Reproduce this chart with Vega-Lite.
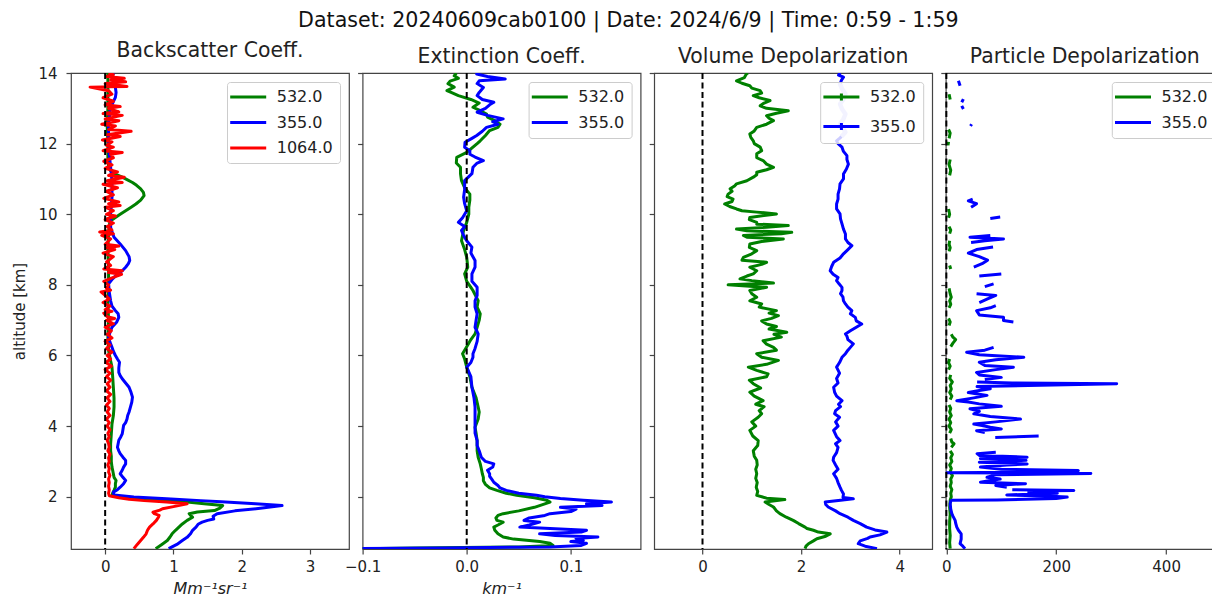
{
  "$schema": "https://vega.github.io/schema/vega-lite/v6.json",
  "background": "white",
  "padding": {"left": 12, "top": 11, "right": 0, "bottom": 0},
  "title": {
    "text": "Dataset: 20240609cab0100 | Date: 2024/6/9 | Time: 0:59 - 1:59",
    "fontSize": 20.6,
    "anchor": "middle",
    "offset": 8,
    "dx": 10,
    "color": "#111"
  },
  "spacing": 13.6,
  "bounds": "flush",
  "resolve": {"scale": {"color": "independent"}, "legend": {"color": "independent"}},
  "datasets": {
    "bsc": [
      {"alt":0.53,"v":0.74,"wl":"532.0"},{"alt":0.65,"v":0.83,"wl":"532.0"},{"alt":0.76,"v":0.91,"wl":"532.0"},{"alt":0.86,"v":0.95,"wl":"532.0"},{"alt":0.95,"v":0.98,"wl":"532.0"},{"alt":1.05,"v":1.03,"wl":"532.0"},{"alt":1.14,"v":1.08,"wl":"532.0"},{"alt":1.23,"v":1.13,"wl":"532.0"},{"alt":1.33,"v":1.2,"wl":"532.0"},{"alt":1.42,"v":1.28,"wl":"532.0"},{"alt":1.47,"v":1.25,"wl":"532.0"},{"alt":1.52,"v":1.23,"wl":"532.0"},{"alt":1.57,"v":1.35,"wl":"532.0"},{"alt":1.61,"v":1.6,"wl":"532.0"},{"alt":1.68,"v":1.68,"wl":"532.0"},{"alt":1.75,"v":1.72,"wl":"532.0"},{"alt":1.8,"v":1.45,"wl":"532.0"},{"alt":1.85,"v":1.2,"wl":"532.0"},{"alt":1.9,"v":0.8,"wl":"532.0"},{"alt":1.94,"v":0.52,"wl":"532.0"},{"alt":1.98,"v":0.25,"wl":"532.0"},{"alt":2.03,"v":0.1,"wl":"532.0"},{"alt":2.1,"v":0.11,"wl":"532.0"},{"alt":2.18,"v":0.13,"wl":"532.0"},{"alt":2.27,"v":0.15,"wl":"532.0"},{"alt":2.37,"v":0.15,"wl":"532.0"},{"alt":2.46,"v":0.16,"wl":"532.0"},{"alt":2.55,"v":0.13,"wl":"532.0"},{"alt":2.65,"v":0.12,"wl":"532.0"},{"alt":2.75,"v":0.11,"wl":"532.0"},{"alt":2.84,"v":0.1,"wl":"532.0"},{"alt":3.0,"v":0.09,"wl":"532.0"},{"alt":3.15,"v":0.09,"wl":"532.0"},{"alt":3.3,"v":0.08,"wl":"532.0"},{"alt":3.5,"v":0.08,"wl":"532.0"},{"alt":3.78,"v":0.09,"wl":"532.0"},{"alt":4.06,"v":0.1,"wl":"532.0"},{"alt":4.3,"v":0.12,"wl":"532.0"},{"alt":4.54,"v":0.13,"wl":"532.0"},{"alt":4.8,"v":0.13,"wl":"532.0"},{"alt":5.1,"v":0.12,"wl":"532.0"},{"alt":5.4,"v":0.11,"wl":"532.0"},{"alt":5.67,"v":0.1,"wl":"532.0"},{"alt":5.85,"v":0.08,"wl":"532.0"},{"alt":6.14,"v":0.05,"wl":"532.0"},{"alt":6.5,"v":0.04,"wl":"532.0"},{"alt":7.0,"v":0.05,"wl":"532.0"},{"alt":7.5,"v":0.04,"wl":"532.0"},{"alt":8.0,"v":0.05,"wl":"532.0"},{"alt":8.5,"v":0.05,"wl":"532.0"},{"alt":9.0,"v":0.04,"wl":"532.0"},{"alt":9.5,"v":0.05,"wl":"532.0"},{"alt":9.8,"v":0.07,"wl":"532.0"},{"alt":9.91,"v":0.15,"wl":"532.0"},{"alt":10.0,"v":0.22,"wl":"532.0"},{"alt":10.1,"v":0.3,"wl":"532.0"},{"alt":10.2,"v":0.38,"wl":"532.0"},{"alt":10.29,"v":0.45,"wl":"532.0"},{"alt":10.4,"v":0.52,"wl":"532.0"},{"alt":10.53,"v":0.57,"wl":"532.0"},{"alt":10.62,"v":0.56,"wl":"532.0"},{"alt":10.72,"v":0.52,"wl":"532.0"},{"alt":10.82,"v":0.46,"wl":"532.0"},{"alt":10.9,"v":0.4,"wl":"532.0"},{"alt":10.98,"v":0.32,"wl":"532.0"},{"alt":11.05,"v":0.25,"wl":"532.0"},{"alt":11.14,"v":0.15,"wl":"532.0"},{"alt":11.23,"v":0.08,"wl":"532.0"},{"alt":11.35,"v":0.05,"wl":"532.0"},{"alt":11.6,"v":0.04,"wl":"532.0"},{"alt":12.0,"v":0.04,"wl":"532.0"},{"alt":12.5,"v":0.03,"wl":"532.0"},{"alt":13.0,"v":0.04,"wl":"532.0"},{"alt":13.5,"v":0.04,"wl":"532.0"},{"alt":14.0,"v":0.04,"wl":"532.0"},

      {"alt":0.53,"v":0.93,"wl":"355.0"},{"alt":0.65,"v":1.05,"wl":"355.0"},{"alt":0.76,"v":1.13,"wl":"355.0"},{"alt":0.85,"v":1.2,"wl":"355.0"},{"alt":0.95,"v":1.25,"wl":"355.0"},{"alt":1.05,"v":1.28,"wl":"355.0"},{"alt":1.14,"v":1.33,"wl":"355.0"},{"alt":1.22,"v":1.36,"wl":"355.0"},{"alt":1.28,"v":1.42,"wl":"355.0"},{"alt":1.33,"v":1.5,"wl":"355.0"},{"alt":1.37,"v":1.59,"wl":"355.0"},{"alt":1.45,"v":1.58,"wl":"355.0"},{"alt":1.52,"v":1.64,"wl":"355.0"},{"alt":1.6,"v":1.9,"wl":"355.0"},{"alt":1.68,"v":2.3,"wl":"355.0"},{"alt":1.75,"v":2.59,"wl":"355.0"},{"alt":1.8,"v":2.2,"wl":"355.0"},{"alt":1.86,"v":1.7,"wl":"355.0"},{"alt":1.89,"v":1.4,"wl":"355.0"},{"alt":1.94,"v":0.9,"wl":"355.0"},{"alt":1.99,"v":0.42,"wl":"355.0"},{"alt":2.05,"v":0.13,"wl":"355.0"},{"alt":2.13,"v":0.12,"wl":"355.0"},{"alt":2.2,"v":0.18,"wl":"355.0"},{"alt":2.27,"v":0.22,"wl":"355.0"},{"alt":2.37,"v":0.27,"wl":"355.0"},{"alt":2.46,"v":0.3,"wl":"355.0"},{"alt":2.55,"v":0.26,"wl":"355.0"},{"alt":2.65,"v":0.22,"wl":"355.0"},{"alt":2.75,"v":0.25,"wl":"355.0"},{"alt":2.84,"v":0.27,"wl":"355.0"},{"alt":2.93,"v":0.3,"wl":"355.0"},{"alt":3.03,"v":0.3,"wl":"355.0"},{"alt":3.12,"v":0.26,"wl":"355.0"},{"alt":3.22,"v":0.22,"wl":"355.0"},{"alt":3.3,"v":0.2,"wl":"355.0"},{"alt":3.4,"v":0.18,"wl":"355.0"},{"alt":3.5,"v":0.19,"wl":"355.0"},{"alt":3.6,"v":0.2,"wl":"355.0"},{"alt":3.7,"v":0.23,"wl":"355.0"},{"alt":3.78,"v":0.25,"wl":"355.0"},{"alt":3.9,"v":0.26,"wl":"355.0"},{"alt":4.02,"v":0.27,"wl":"355.0"},{"alt":4.1,"v":0.3,"wl":"355.0"},{"alt":4.2,"v":0.32,"wl":"355.0"},{"alt":4.3,"v":0.33,"wl":"355.0"},{"alt":4.4,"v":0.35,"wl":"355.0"},{"alt":4.54,"v":0.37,"wl":"355.0"},{"alt":4.68,"v":0.39,"wl":"355.0"},{"alt":4.82,"v":0.4,"wl":"355.0"},{"alt":4.95,"v":0.38,"wl":"355.0"},{"alt":5.1,"v":0.35,"wl":"355.0"},{"alt":5.22,"v":0.3,"wl":"355.0"},{"alt":5.34,"v":0.25,"wl":"355.0"},{"alt":5.43,"v":0.22,"wl":"355.0"},{"alt":5.52,"v":0.2,"wl":"355.0"},{"alt":5.65,"v":0.2,"wl":"355.0"},{"alt":5.81,"v":0.21,"wl":"355.0"},{"alt":5.9,"v":0.18,"wl":"355.0"},{"alt":6.0,"v":0.15,"wl":"355.0"},{"alt":6.12,"v":0.12,"wl":"355.0"},{"alt":6.23,"v":0.1,"wl":"355.0"},{"alt":6.38,"v":0.07,"wl":"355.0"},{"alt":6.52,"v":0.05,"wl":"355.0"},{"alt":6.65,"v":0.07,"wl":"355.0"},{"alt":6.8,"v":0.1,"wl":"355.0"},{"alt":6.95,"v":0.17,"wl":"355.0"},{"alt":7.08,"v":0.2,"wl":"355.0"},{"alt":7.18,"v":0.19,"wl":"355.0"},{"alt":7.27,"v":0.15,"wl":"355.0"},{"alt":7.4,"v":0.1,"wl":"355.0"},{"alt":7.55,"v":0.08,"wl":"355.0"},{"alt":7.8,"v":0.06,"wl":"355.0"},{"alt":8.03,"v":0.05,"wl":"355.0"},{"alt":8.15,"v":0.1,"wl":"355.0"},{"alt":8.31,"v":0.18,"wl":"355.0"},{"alt":8.4,"v":0.25,"wl":"355.0"},{"alt":8.5,"v":0.3,"wl":"355.0"},{"alt":8.6,"v":0.34,"wl":"355.0"},{"alt":8.69,"v":0.36,"wl":"355.0"},{"alt":8.8,"v":0.35,"wl":"355.0"},{"alt":8.97,"v":0.3,"wl":"355.0"},{"alt":9.16,"v":0.22,"wl":"355.0"},{"alt":9.35,"v":0.13,"wl":"355.0"},{"alt":9.5,"v":0.1,"wl":"355.0"},{"alt":9.63,"v":0.08,"wl":"355.0"},{"alt":10.01,"v":0.08,"wl":"355.0"},{"alt":10.48,"v":0.1,"wl":"355.0"},{"alt":10.95,"v":0.1,"wl":"355.0"},{"alt":11.33,"v":0.08,"wl":"355.0"},{"alt":11.7,"v":0.06,"wl":"355.0"},{"alt":12.08,"v":0.05,"wl":"355.0"},{"alt":12.55,"v":0.05,"wl":"355.0"},{"alt":13.03,"v":0.08,"wl":"355.0"},{"alt":13.15,"v":0.11,"wl":"355.0"},{"alt":13.31,"v":0.15,"wl":"355.0"},{"alt":13.45,"v":0.16,"wl":"355.0"},{"alt":13.59,"v":0.15,"wl":"355.0"},{"alt":13.75,"v":0.12,"wl":"355.0"},{"alt":13.88,"v":0.1,"wl":"355.0"},{"alt":14.0,"v":0.12,"wl":"355.0"},

      {"alt":0.53,"v":0.42,"wl":"1064.0"},{"alt":0.65,"v":0.47,"wl":"1064.0"},{"alt":0.76,"v":0.52,"wl":"1064.0"},{"alt":0.85,"v":0.56,"wl":"1064.0"},{"alt":0.95,"v":0.6,"wl":"1064.0"},{"alt":1.05,"v":0.62,"wl":"1064.0"},{"alt":1.14,"v":0.65,"wl":"1064.0"},{"alt":1.23,"v":0.7,"wl":"1064.0"},{"alt":1.33,"v":0.75,"wl":"1064.0"},{"alt":1.42,"v":0.78,"wl":"1064.0"},{"alt":1.47,"v":0.79,"wl":"1064.0"},{"alt":1.52,"v":0.72,"wl":"1064.0"},{"alt":1.56,"v":0.7,"wl":"1064.0"},{"alt":1.62,"v":0.8,"wl":"1064.0"},{"alt":1.66,"v":0.84,"wl":"1064.0"},{"alt":1.72,"v":1.0,"wl":"1064.0"},{"alt":1.8,"v":1.2,"wl":"1064.0"},{"alt":1.85,"v":0.9,"wl":"1064.0"},{"alt":1.89,"v":0.57,"wl":"1064.0"},{"alt":1.93,"v":0.35,"wl":"1064.0"},{"alt":1.97,"v":0.2,"wl":"1064.0"},{"alt":2.03,"v":0.06,"wl":"1064.0"},
      {"alt":2.1,"v":0.05,"wl":"1064.0"},{"alt":2.2,"v":0.06,"wl":"1064.0"},{"alt":2.3,"v":0.05,"wl":"1064.0"},{"alt":2.4,"v":0.06,"wl":"1064.0"},{"alt":2.5,"v":0.05,"wl":"1064.0"},{"alt":2.6,"v":0.07,"wl":"1064.0"},{"alt":2.7,"v":0.05,"wl":"1064.0"},{"alt":2.8,"v":0.06,"wl":"1064.0"},{"alt":2.9,"v":0.04,"wl":"1064.0"},{"alt":3.0,"v":0.06,"wl":"1064.0"},{"alt":3.1,"v":0.05,"wl":"1064.0"},{"alt":3.2,"v":0.07,"wl":"1064.0"},{"alt":3.3,"v":0.04,"wl":"1064.0"},{"alt":3.4,"v":0.06,"wl":"1064.0"},{"alt":3.5,"v":0.05,"wl":"1064.0"},{"alt":3.6,"v":0.03,"wl":"1064.0"},{"alt":3.7,"v":0.06,"wl":"1064.0"},{"alt":3.8,"v":0.04,"wl":"1064.0"},{"alt":3.9,"v":0.07,"wl":"1064.0"},{"alt":4.0,"v":0.03,"wl":"1064.0"},{"alt":4.1,"v":0.06,"wl":"1064.0"},{"alt":4.2,"v":0.02,"wl":"1064.0"},{"alt":4.3,"v":0.07,"wl":"1064.0"},{"alt":4.4,"v":0.03,"wl":"1064.0"},{"alt":4.5,"v":0.06,"wl":"1064.0"},{"alt":4.6,"v":0.02,"wl":"1064.0"},{"alt":4.7,"v":0.07,"wl":"1064.0"},{"alt":4.8,"v":0.03,"wl":"1064.0"},{"alt":4.9,"v":0.08,"wl":"1064.0"},{"alt":5.0,"v":0.02,"wl":"1064.0"},{"alt":5.1,"v":0.07,"wl":"1064.0"},{"alt":5.2,"v":0.03,"wl":"1064.0"},{"alt":5.3,"v":0.08,"wl":"1064.0"},{"alt":5.4,"v":0.02,"wl":"1064.0"},{"alt":5.5,"v":0.07,"wl":"1064.0"},{"alt":5.6,"v":0.0,"wl":"1064.0"},{"alt":5.7,"v":0.09,"wl":"1064.0"},{"alt":5.8,"v":0.01,"wl":"1064.0"},{"alt":5.9,"v":0.08,"wl":"1064.0"},{"alt":6.0,"v":0.03,"wl":"1064.0"},{"alt":6.1,"v":0.1,"wl":"1064.0"},{"alt":6.2,"v":0.02,"wl":"1064.0"},{"alt":6.3,"v":0.07,"wl":"1064.0"},{"alt":6.4,"v":0.0,"wl":"1064.0"},{"alt":6.5,"v":0.1,"wl":"1064.0"},{"alt":6.6,"v":0.03,"wl":"1064.0"},{"alt":6.7,"v":0.09,"wl":"1064.0"},{"alt":6.8,"v":0.0,"wl":"1064.0"},{"alt":6.9,"v":0.12,"wl":"1064.0"},{"alt":7.0,"v":0.02,"wl":"1064.0"},{"alt":7.05,"v":0.14,"wl":"1064.0"},{"alt":7.1,"v":0.03,"wl":"1064.0"},{"alt":7.2,"v":-0.02,"wl":"1064.0"},{"alt":7.25,"v":0.1,"wl":"1064.0"},{"alt":7.3,"v":0.0,"wl":"1064.0"},{"alt":7.4,"v":0.07,"wl":"1064.0"},{"alt":7.5,"v":-0.03,"wl":"1064.0"},{"alt":7.6,"v":0.06,"wl":"1064.0"},{"alt":7.7,"v":0.0,"wl":"1064.0"},{"alt":7.8,"v":-0.06,"wl":"1064.0"},{"alt":7.85,"v":0.08,"wl":"1064.0"},{"alt":7.9,"v":0.02,"wl":"1064.0"},{"alt":8.0,"v":0.05,"wl":"1064.0"},{"alt":8.1,"v":-0.02,"wl":"1064.0"},{"alt":8.2,"v":0.1,"wl":"1064.0"},{"alt":8.3,"v":0.24,"wl":"1064.0"},{"alt":8.35,"v":0.05,"wl":"1064.0"},{"alt":8.4,"v":0.25,"wl":"1064.0"},{"alt":8.45,"v":-0.02,"wl":"1064.0"},{"alt":8.55,"v":0.08,"wl":"1064.0"},{"alt":8.65,"v":0.02,"wl":"1064.0"},{"alt":8.8,"v":0.12,"wl":"1064.0"},{"alt":8.9,"v":-0.03,"wl":"1064.0"},{"alt":9.0,"v":0.14,"wl":"1064.0"},{"alt":9.05,"v":0.02,"wl":"1064.0"},{"alt":9.1,"v":0.2,"wl":"1064.0"},{"alt":9.15,"v":0.0,"wl":"1064.0"},{"alt":9.3,"v":0.08,"wl":"1064.0"},{"alt":9.4,"v":-0.05,"wl":"1064.0"},{"alt":9.45,"v":0.12,"wl":"1064.0"},{"alt":9.5,"v":-0.08,"wl":"1064.0"},{"alt":9.55,"v":0.1,"wl":"1064.0"},{"alt":9.65,"v":0.03,"wl":"1064.0"},{"alt":9.75,"v":0.12,"wl":"1064.0"},{"alt":9.85,"v":0.0,"wl":"1064.0"},{"alt":9.95,"v":0.15,"wl":"1064.0"},{"alt":10.0,"v":0.02,"wl":"1064.0"},{"alt":10.1,"v":0.12,"wl":"1064.0"},{"alt":10.2,"v":0.0,"wl":"1064.0"},{"alt":10.25,"v":0.22,"wl":"1064.0"},{"alt":10.3,"v":0.05,"wl":"1064.0"},{"alt":10.35,"v":0.2,"wl":"1064.0"},{"alt":10.45,"v":-0.02,"wl":"1064.0"},{"alt":10.55,"v":0.12,"wl":"1064.0"},{"alt":10.65,"v":0.02,"wl":"1064.0"},{"alt":10.75,"v":0.18,"wl":"1064.0"},{"alt":10.85,"v":-0.03,"wl":"1064.0"},{"alt":10.9,"v":0.25,"wl":"1064.0"},{"alt":10.95,"v":0.03,"wl":"1064.0"},{"alt":11.0,"v":0.15,"wl":"1064.0"},{"alt":11.05,"v":0.28,"wl":"1064.0"},{"alt":11.1,"v":0.05,"wl":"1064.0"},{"alt":11.2,"v":0.18,"wl":"1064.0"},{"alt":11.3,"v":0.0,"wl":"1064.0"},{"alt":11.4,"v":0.1,"wl":"1064.0"},{"alt":11.5,"v":-0.02,"wl":"1064.0"},{"alt":11.6,"v":0.12,"wl":"1064.0"},{"alt":11.7,"v":0.08,"wl":"1064.0"},{"alt":11.75,"v":0.25,"wl":"1064.0"},{"alt":11.8,"v":-0.03,"wl":"1064.0"},{"alt":11.9,"v":0.12,"wl":"1064.0"},{"alt":11.95,"v":0.02,"wl":"1064.0"},{"alt":12.05,"v":0.1,"wl":"1064.0"},{"alt":12.1,"v":-0.04,"wl":"1064.0"},{"alt":12.2,"v":0.22,"wl":"1064.0"},{"alt":12.25,"v":0.03,"wl":"1064.0"},{"alt":12.35,"v":0.38,"wl":"1064.0"},{"alt":12.4,"v":0.05,"wl":"1064.0"},{"alt":12.5,"v":0.15,"wl":"1064.0"},{"alt":12.55,"v":-0.05,"wl":"1064.0"},{"alt":12.65,"v":0.2,"wl":"1064.0"},{"alt":12.7,"v":0.0,"wl":"1064.0"},{"alt":12.8,"v":0.25,"wl":"1064.0"},{"alt":12.85,"v":-0.03,"wl":"1064.0"},{"alt":12.9,"v":0.2,"wl":"1064.0"},{"alt":13.0,"v":0.05,"wl":"1064.0"},{"alt":13.05,"v":0.22,"wl":"1064.0"},{"alt":13.1,"v":0.0,"wl":"1064.0"},{"alt":13.2,"v":0.12,"wl":"1064.0"},{"alt":13.3,"v":-0.03,"wl":"1064.0"},{"alt":13.4,"v":0.1,"wl":"1064.0"},{"alt":13.5,"v":0.05,"wl":"1064.0"},{"alt":13.6,"v":-0.22,"wl":"1064.0"},{"alt":13.62,"v":0.32,"wl":"1064.0"},{"alt":13.7,"v":0.0,"wl":"1064.0"},{"alt":13.75,"v":0.3,"wl":"1064.0"},{"alt":13.8,"v":0.08,"wl":"1064.0"},{"alt":13.85,"v":0.28,"wl":"1064.0"},{"alt":13.9,"v":0.02,"wl":"1064.0"},{"alt":13.95,"v":0.12,"wl":"1064.0"},{"alt":14.0,"v":0.05,"wl":"1064.0"}
    ],
    "ext": [
      {"alt":0.52,"v":-0.12,"wl":"532.0"},{"alt":0.55,"v":-0.05,"wl":"532.0"},{"alt":0.58,"v":0.05,"wl":"532.0"},{"alt":0.62,"v":0.083,"wl":"532.0"},{"alt":0.68,"v":0.08,"wl":"532.0"},{"alt":0.73,"v":0.07,"wl":"532.0"},{"alt":0.76,"v":0.06,"wl":"532.0"},{"alt":0.8,"v":0.045,"wl":"532.0"},{"alt":0.86,"v":0.035,"wl":"532.0"},{"alt":0.95,"v":0.03,"wl":"532.0"},{"alt":1.05,"v":0.027,"wl":"532.0"},{"alt":1.14,"v":0.026,"wl":"532.0"},{"alt":1.2,"v":0.03,"wl":"532.0"},{"alt":1.28,"v":0.035,"wl":"532.0"},{"alt":1.33,"v":0.029,"wl":"532.0"},{"alt":1.4,"v":0.028,"wl":"532.0"},{"alt":1.47,"v":0.03,"wl":"532.0"},{"alt":1.52,"v":0.035,"wl":"532.0"},{"alt":1.6,"v":0.05,"wl":"532.0"},{"alt":1.7,"v":0.065,"wl":"532.0"},{"alt":1.8,"v":0.075,"wl":"532.0"},{"alt":1.85,"v":0.08,"wl":"532.0"},{"alt":1.9,"v":0.077,"wl":"532.0"},{"alt":1.97,"v":0.065,"wl":"532.0"},{"alt":2.04,"v":0.048,"wl":"532.0"},{"alt":2.1,"v":0.038,"wl":"532.0"},{"alt":2.18,"v":0.029,"wl":"532.0"},{"alt":2.25,"v":0.022,"wl":"532.0"},{"alt":2.35,"v":0.018,"wl":"532.0"},{"alt":2.45,"v":0.016,"wl":"532.0"},{"alt":2.55,"v":0.016,"wl":"532.0"},{"alt":2.65,"v":0.015,"wl":"532.0"},{"alt":2.8,"v":0.014,"wl":"532.0"},{"alt":2.93,"v":0.013,"wl":"532.0"},{"alt":3.12,"v":0.011,"wl":"532.0"},{"alt":3.3,"v":0.01,"wl":"532.0"},{"alt":3.59,"v":0.01,"wl":"532.0"},{"alt":3.8,"v":0.009,"wl":"532.0"},{"alt":3.97,"v":0.008,"wl":"532.0"},{"alt":4.2,"v":0.011,"wl":"532.0"},{"alt":4.4,"v":0.012,"wl":"532.0"},{"alt":4.54,"v":0.011,"wl":"532.0"},{"alt":4.8,"v":0.009,"wl":"532.0"},{"alt":5.1,"v":0.005,"wl":"532.0"},{"alt":5.4,"v":0.003,"wl":"532.0"},{"alt":5.67,"v":0.0,"wl":"532.0"},{"alt":5.9,"v":-0.002,"wl":"532.0"},{"alt":6.05,"v":-0.004,"wl":"532.0"},{"alt":6.25,"v":0.0,"wl":"532.0"},{"alt":6.45,"v":0.004,"wl":"532.0"},{"alt":6.61,"v":0.008,"wl":"532.0"},{"alt":6.8,"v":0.01,"wl":"532.0"},{"alt":7.0,"v":0.012,"wl":"532.0"},{"alt":7.18,"v":0.013,"wl":"532.0"},{"alt":7.37,"v":0.01,"wl":"532.0"},{"alt":7.55,"v":0.011,"wl":"532.0"},{"alt":7.84,"v":0.006,"wl":"532.0"},{"alt":7.93,"v":0.004,"wl":"532.0"},{"alt":8.1,"v":0.0,"wl":"532.0"},{"alt":8.31,"v":-0.002,"wl":"532.0"},{"alt":8.5,"v":0.001,"wl":"532.0"},{"alt":8.78,"v":0.0,"wl":"532.0"},{"alt":9.0,"v":-0.002,"wl":"532.0"},{"alt":9.25,"v":-0.005,"wl":"532.0"},{"alt":9.54,"v":-0.003,"wl":"532.0"},{"alt":9.77,"v":0.0,"wl":"532.0"},{"alt":10.0,"v":0.002,"wl":"532.0"},{"alt":10.2,"v":0.002,"wl":"532.0"},{"alt":10.4,"v":0.003,"wl":"532.0"},{"alt":10.57,"v":0.003,"wl":"532.0"},{"alt":10.75,"v":-0.002,"wl":"532.0"},{"alt":10.95,"v":-0.005,"wl":"532.0"},{"alt":11.15,"v":-0.006,"wl":"532.0"},{"alt":11.33,"v":-0.006,"wl":"532.0"},{"alt":11.45,"v":-0.01,"wl":"532.0"},{"alt":11.61,"v":-0.0096,"wl":"532.0"},{"alt":11.75,"v":0.0,"wl":"532.0"},{"alt":11.9,"v":0.006,"wl":"532.0"},{"alt":12.0,"v":0.01,"wl":"532.0"},{"alt":12.08,"v":0.013,"wl":"532.0"},{"alt":12.23,"v":0.018,"wl":"532.0"},{"alt":12.37,"v":0.022,"wl":"532.0"},{"alt":12.46,"v":0.03,"wl":"532.0"},{"alt":12.55,"v":0.032,"wl":"532.0"},{"alt":12.65,"v":0.027,"wl":"532.0"},{"alt":12.75,"v":0.02,"wl":"532.0"},{"alt":12.84,"v":0.019,"wl":"532.0"},{"alt":12.95,"v":0.012,"wl":"532.0"},{"alt":13.03,"v":0.006,"wl":"532.0"},{"alt":13.15,"v":0.012,"wl":"532.0"},{"alt":13.25,"v":0.004,"wl":"532.0"},{"alt":13.36,"v":-0.008,"wl":"532.0"},{"alt":13.45,"v":-0.015,"wl":"532.0"},{"alt":13.5,"v":-0.019,"wl":"532.0"},{"alt":13.6,"v":-0.012,"wl":"532.0"},{"alt":13.7,"v":-0.018,"wl":"532.0"},{"alt":13.77,"v":-0.016,"wl":"532.0"},{"alt":13.85,"v":-0.008,"wl":"532.0"},{"alt":13.92,"v":-0.012,"wl":"532.0"},{"alt":14.0,"v":-0.01,"wl":"532.0"},

      {"alt":0.52,"v":-0.15,"wl":"355.0"},{"alt":0.55,"v":-0.02,"wl":"355.0"},{"alt":0.58,"v":0.08,"wl":"355.0"},{"alt":0.62,"v":0.11,"wl":"355.0"},{"alt":0.68,"v":0.115,"wl":"355.0"},{"alt":0.73,"v":0.1,"wl":"355.0"},{"alt":0.76,"v":0.112,"wl":"355.0"},{"alt":0.82,"v":0.105,"wl":"355.0"},{"alt":0.86,"v":0.126,"wl":"355.0"},{"alt":0.9,"v":0.085,"wl":"355.0"},{"alt":0.95,"v":0.07,"wl":"355.0"},{"alt":1.0,"v":0.11,"wl":"355.0"},{"alt":1.05,"v":0.115,"wl":"355.0"},{"alt":1.1,"v":0.08,"wl":"355.0"},{"alt":1.14,"v":0.051,"wl":"355.0"},{"alt":1.2,"v":0.06,"wl":"355.0"},{"alt":1.28,"v":0.07,"wl":"355.0"},{"alt":1.33,"v":0.055,"wl":"355.0"},{"alt":1.4,"v":0.06,"wl":"355.0"},{"alt":1.47,"v":0.075,"wl":"355.0"},{"alt":1.52,"v":0.08,"wl":"355.0"},{"alt":1.58,"v":0.1,"wl":"355.0"},{"alt":1.65,"v":0.105,"wl":"355.0"},{"alt":1.7,"v":0.09,"wl":"355.0"},{"alt":1.75,"v":0.13,"wl":"355.0"},{"alt":1.8,"v":0.115,"wl":"355.0"},{"alt":1.85,"v":0.139,"wl":"355.0"},{"alt":1.9,"v":0.112,"wl":"355.0"},{"alt":1.95,"v":0.09,"wl":"355.0"},{"alt":2.0,"v":0.075,"wl":"355.0"},{"alt":2.04,"v":0.067,"wl":"355.0"},{"alt":2.1,"v":0.05,"wl":"355.0"},{"alt":2.18,"v":0.038,"wl":"355.0"},{"alt":2.25,"v":0.032,"wl":"355.0"},{"alt":2.32,"v":0.03,"wl":"355.0"},{"alt":2.41,"v":0.026,"wl":"355.0"},{"alt":2.5,"v":0.024,"wl":"355.0"},{"alt":2.58,"v":0.022,"wl":"355.0"},{"alt":2.65,"v":0.022,"wl":"355.0"},{"alt":2.75,"v":0.02,"wl":"355.0"},{"alt":2.84,"v":0.025,"wl":"355.0"},{"alt":2.93,"v":0.026,"wl":"355.0"},{"alt":3.0,"v":0.018,"wl":"355.0"},{"alt":3.12,"v":0.014,"wl":"355.0"},{"alt":3.3,"v":0.012,"wl":"355.0"},{"alt":3.45,"v":0.01,"wl":"355.0"},{"alt":3.59,"v":0.01,"wl":"355.0"},{"alt":3.8,"v":0.008,"wl":"355.0"},{"alt":3.97,"v":0.008,"wl":"355.0"},{"alt":4.2,"v":0.008,"wl":"355.0"},{"alt":4.54,"v":0.008,"wl":"355.0"},{"alt":4.8,"v":0.007,"wl":"355.0"},{"alt":5.1,"v":0.005,"wl":"355.0"},{"alt":5.4,"v":0.004,"wl":"355.0"},{"alt":5.67,"v":0.0,"wl":"355.0"},{"alt":5.8,"v":0.004,"wl":"355.0"},{"alt":5.95,"v":0.006,"wl":"355.0"},{"alt":6.05,"v":0.006,"wl":"355.0"},{"alt":6.2,"v":0.008,"wl":"355.0"},{"alt":6.4,"v":0.01,"wl":"355.0"},{"alt":6.61,"v":0.011,"wl":"355.0"},{"alt":6.8,"v":0.008,"wl":"355.0"},{"alt":7.0,"v":0.009,"wl":"355.0"},{"alt":7.18,"v":0.01,"wl":"355.0"},{"alt":7.37,"v":0.008,"wl":"355.0"},{"alt":7.55,"v":0.008,"wl":"355.0"},{"alt":7.7,"v":0.01,"wl":"355.0"},{"alt":7.93,"v":0.01,"wl":"355.0"},{"alt":8.1,"v":0.005,"wl":"355.0"},{"alt":8.31,"v":0.005,"wl":"355.0"},{"alt":8.5,"v":0.008,"wl":"355.0"},{"alt":8.69,"v":0.008,"wl":"355.0"},{"alt":8.9,"v":0.004,"wl":"355.0"},{"alt":9.07,"v":0.005,"wl":"355.0"},{"alt":9.25,"v":0.0,"wl":"355.0"},{"alt":9.4,"v":-0.003,"wl":"355.0"},{"alt":9.54,"v":-0.005,"wl":"355.0"},{"alt":9.65,"v":-0.002,"wl":"355.0"},{"alt":9.77,"v":-0.008,"wl":"355.0"},{"alt":9.9,"v":-0.004,"wl":"355.0"},{"alt":10.1,"v":0.0,"wl":"355.0"},{"alt":10.3,"v":-0.002,"wl":"355.0"},{"alt":10.48,"v":-0.003,"wl":"355.0"},{"alt":10.7,"v":-0.002,"wl":"355.0"},{"alt":10.95,"v":-0.002,"wl":"355.0"},{"alt":11.15,"v":0.005,"wl":"355.0"},{"alt":11.33,"v":0.006,"wl":"355.0"},{"alt":11.45,"v":0.01,"wl":"355.0"},{"alt":11.52,"v":0.016,"wl":"355.0"},{"alt":11.62,"v":0.008,"wl":"355.0"},{"alt":11.7,"v":0.003,"wl":"355.0"},{"alt":11.8,"v":0.003,"wl":"355.0"},{"alt":11.9,"v":-0.002,"wl":"355.0"},{"alt":12.04,"v":-0.0016,"wl":"355.0"},{"alt":12.15,"v":0.005,"wl":"355.0"},{"alt":12.23,"v":0.0096,"wl":"355.0"},{"alt":12.35,"v":0.015,"wl":"355.0"},{"alt":12.46,"v":0.019,"wl":"355.0"},{"alt":12.55,"v":0.03,"wl":"355.0"},{"alt":12.62,"v":0.025,"wl":"355.0"},{"alt":12.7,"v":0.035,"wl":"355.0"},{"alt":12.8,"v":0.02,"wl":"355.0"},{"alt":12.89,"v":0.01,"wl":"355.0"},{"alt":13.0,"v":0.018,"wl":"355.0"},{"alt":13.1,"v":0.022,"wl":"355.0"},{"alt":13.17,"v":0.026,"wl":"355.0"},{"alt":13.25,"v":0.015,"wl":"355.0"},{"alt":13.36,"v":0.01,"wl":"355.0"},{"alt":13.45,"v":0.012,"wl":"355.0"},{"alt":13.59,"v":0.016,"wl":"355.0"},{"alt":13.7,"v":0.01,"wl":"355.0"},{"alt":13.78,"v":0.012,"wl":"355.0"},{"alt":13.83,"v":0.037,"wl":"355.0"},{"alt":13.9,"v":0.02,"wl":"355.0"},{"alt":13.97,"v":0.0096,"wl":"355.0"},{"alt":14.0,"v":0.01,"wl":"355.0"}
    ],
    "vdr": [
      {"alt":0.53,"v":2.08,"wl":"532.0","seg":"g"},{"alt":0.6,"v":2.1,"wl":"532.0","seg":"g"},{"alt":0.67,"v":2.15,"wl":"532.0","seg":"g"},{"alt":0.75,"v":2.25,"wl":"532.0","seg":"g"},{"alt":0.81,"v":2.32,"wl":"532.0","seg":"g"},{"alt":0.88,"v":2.5,"wl":"532.0","seg":"g"},{"alt":0.95,"v":2.59,"wl":"532.0","seg":"g"},{"alt":1.0,"v":2.35,"wl":"532.0","seg":"g"},{"alt":1.05,"v":2.25,"wl":"532.0","seg":"g"},{"alt":1.1,"v":2.12,"wl":"532.0","seg":"g"},{"alt":1.14,"v":2.08,"wl":"532.0","seg":"g"},{"alt":1.24,"v":1.95,"wl":"532.0","seg":"g"},{"alt":1.33,"v":1.84,"wl":"532.0","seg":"g"},{"alt":1.42,"v":1.7,"wl":"532.0","seg":"g"},{"alt":1.52,"v":1.57,"wl":"532.0","seg":"g"},{"alt":1.6,"v":1.5,"wl":"532.0","seg":"g"},{"alt":1.71,"v":1.44,"wl":"532.0","seg":"g"},{"alt":1.78,"v":1.35,"wl":"532.0","seg":"g"},{"alt":1.85,"v":1.27,"wl":"532.0","seg":"g"},{"alt":1.92,"v":1.67,"wl":"532.0","seg":"g"},{"alt":1.96,"v":1.3,"wl":"532.0","seg":"g"},{"alt":2.04,"v":1.1,"wl":"532.0","seg":"g"},{"alt":2.15,"v":1.12,"wl":"532.0","seg":"g"},{"alt":2.27,"v":1.09,"wl":"532.0","seg":"g"},{"alt":2.4,"v":1.11,"wl":"532.0","seg":"g"},{"alt":2.52,"v":1.08,"wl":"532.0","seg":"g"},{"alt":2.65,"v":1.1,"wl":"532.0","seg":"g"},{"alt":2.78,"v":1.08,"wl":"532.0","seg":"g"},{"alt":2.9,"v":1.11,"wl":"532.0","seg":"g"},{"alt":3.03,"v":1.1,"wl":"532.0","seg":"g"},{"alt":3.15,"v":1.05,"wl":"532.0","seg":"g"},{"alt":3.3,"v":1.03,"wl":"532.0","seg":"g"},{"alt":3.45,"v":1.12,"wl":"532.0","seg":"g"},{"alt":3.59,"v":1.13,"wl":"532.0","seg":"g"},{"alt":3.72,"v":1.02,"wl":"532.0","seg":"g"},{"alt":3.88,"v":0.96,"wl":"532.0","seg":"g"},{"alt":4.0,"v":1.08,"wl":"532.0","seg":"g"},{"alt":4.12,"v":1.0,"wl":"532.0","seg":"g"},{"alt":4.25,"v":1.13,"wl":"532.0","seg":"g"},{"alt":4.35,"v":1.2,"wl":"532.0","seg":"g"},{"alt":4.44,"v":1.15,"wl":"532.0","seg":"g"},{"alt":4.55,"v":1.25,"wl":"532.0","seg":"g"},{"alt":4.62,"v":1.08,"wl":"532.0","seg":"g"},{"alt":4.72,"v":1.23,"wl":"532.0","seg":"g"},{"alt":4.85,"v":1.05,"wl":"532.0","seg":"g"},{"alt":4.96,"v":0.96,"wl":"532.0","seg":"g"},{"alt":5.08,"v":1.18,"wl":"532.0","seg":"g"},{"alt":5.2,"v":1.03,"wl":"532.0","seg":"g"},{"alt":5.3,"v":0.95,"wl":"532.0","seg":"g"},{"alt":5.4,"v":1.3,"wl":"532.0","seg":"g"},{"alt":5.48,"v":1.33,"wl":"532.0","seg":"g"},{"alt":5.58,"v":1.1,"wl":"532.0","seg":"g"},{"alt":5.67,"v":0.93,"wl":"532.0","seg":"g"},{"alt":5.75,"v":1.3,"wl":"532.0","seg":"g"},{"alt":5.86,"v":1.54,"wl":"532.0","seg":"g"},{"alt":5.95,"v":1.2,"wl":"532.0","seg":"g"},{"alt":6.05,"v":1.1,"wl":"532.0","seg":"g"},{"alt":6.15,"v":1.5,"wl":"532.0","seg":"g"},{"alt":6.23,"v":1.44,"wl":"532.0","seg":"g"},{"alt":6.32,"v":1.3,"wl":"532.0","seg":"g"},{"alt":6.42,"v":1.23,"wl":"532.0","seg":"g"},{"alt":6.52,"v":1.6,"wl":"532.0","seg":"g"},{"alt":6.6,"v":1.45,"wl":"532.0","seg":"g"},{"alt":6.66,"v":1.71,"wl":"532.0","seg":"g"},{"alt":6.75,"v":1.35,"wl":"532.0","seg":"g"},{"alt":6.82,"v":1.5,"wl":"532.0","seg":"g"},{"alt":6.89,"v":1.3,"wl":"532.0","seg":"g"},{"alt":6.98,"v":1.2,"wl":"532.0","seg":"g"},{"alt":7.05,"v":1.4,"wl":"532.0","seg":"g"},{"alt":7.13,"v":1.54,"wl":"532.0","seg":"g"},{"alt":7.2,"v":1.35,"wl":"532.0","seg":"g"},{"alt":7.27,"v":1.5,"wl":"532.0","seg":"g"},{"alt":7.37,"v":1.15,"wl":"532.0","seg":"g"},{"alt":7.46,"v":1.2,"wl":"532.0","seg":"g"},{"alt":7.55,"v":0.96,"wl":"532.0","seg":"g"},{"alt":7.65,"v":1.1,"wl":"532.0","seg":"g"},{"alt":7.75,"v":1.0,"wl":"532.0","seg":"g"},{"alt":7.84,"v":0.96,"wl":"532.0","seg":"g"},{"alt":7.93,"v":1.3,"wl":"532.0","seg":"g"},{"alt":8.0,"v":0.52,"wl":"532.0","seg":"g"},{"alt":8.05,"v":1.44,"wl":"532.0","seg":"g"},{"alt":8.12,"v":1.0,"wl":"532.0","seg":"g"},{"alt":8.17,"v":0.76,"wl":"532.0","seg":"g"},{"alt":8.25,"v":0.9,"wl":"532.0","seg":"g"},{"alt":8.31,"v":1.03,"wl":"532.0","seg":"g"},{"alt":8.4,"v":1.1,"wl":"532.0","seg":"g"},{"alt":8.5,"v":0.96,"wl":"532.0","seg":"g"},{"alt":8.58,"v":1.2,"wl":"532.0","seg":"g"},{"alt":8.64,"v":1.3,"wl":"532.0","seg":"g"},{"alt":8.7,"v":0.8,"wl":"532.0","seg":"g"},{"alt":8.78,"v":0.83,"wl":"532.0","seg":"g"},{"alt":8.88,"v":1.0,"wl":"532.0","seg":"g"},{"alt":8.97,"v":1.1,"wl":"532.0","seg":"g"},{"alt":9.06,"v":0.95,"wl":"532.0","seg":"g"},{"alt":9.16,"v":0.96,"wl":"532.0","seg":"g"},{"alt":9.23,"v":1.2,"wl":"532.0","seg":"g"},{"alt":9.3,"v":1.64,"wl":"532.0","seg":"g"},{"alt":9.35,"v":0.9,"wl":"532.0","seg":"g"},{"alt":9.4,"v":0.83,"wl":"532.0","seg":"g"},{"alt":9.45,"v":1.6,"wl":"532.0","seg":"g"},{"alt":9.49,"v":1.81,"wl":"532.0","seg":"g"},{"alt":9.53,"v":0.9,"wl":"532.0","seg":"g"},{"alt":9.58,"v":0.69,"wl":"532.0","seg":"g"},{"alt":9.63,"v":1.3,"wl":"532.0","seg":"g"},{"alt":9.68,"v":1.74,"wl":"532.0","seg":"g"},{"alt":9.72,"v":1.1,"wl":"532.0","seg":"g"},{"alt":9.77,"v":1.1,"wl":"532.0","seg":"g"},{"alt":9.85,"v":0.95,"wl":"532.0","seg":"g"},{"alt":9.91,"v":0.96,"wl":"532.0","seg":"g"},{"alt":10.01,"v":1.5,"wl":"532.0","seg":"g"},{"alt":10.06,"v":1.1,"wl":"532.0","seg":"g"},{"alt":10.1,"v":0.8,"wl":"532.0","seg":"g"},{"alt":10.15,"v":0.69,"wl":"532.0","seg":"g"},{"alt":10.22,"v":0.55,"wl":"532.0","seg":"g"},{"alt":10.29,"v":0.45,"wl":"532.0","seg":"g"},{"alt":10.36,"v":0.6,"wl":"532.0","seg":"g"},{"alt":10.43,"v":0.62,"wl":"532.0","seg":"g"},{"alt":10.5,"v":0.5,"wl":"532.0","seg":"g"},{"alt":10.57,"v":0.52,"wl":"532.0","seg":"g"},{"alt":10.65,"v":0.6,"wl":"532.0","seg":"g"},{"alt":10.72,"v":0.56,"wl":"532.0","seg":"g"},{"alt":10.8,"v":0.65,"wl":"532.0","seg":"g"},{"alt":10.86,"v":0.69,"wl":"532.0","seg":"g"},{"alt":10.95,"v":0.9,"wl":"532.0","seg":"g"},{"alt":11.05,"v":1.03,"wl":"532.0","seg":"g"},{"alt":11.12,"v":1.1,"wl":"532.0","seg":"g"},{"alt":11.19,"v":1.1,"wl":"532.0","seg":"g"},{"alt":11.26,"v":1.3,"wl":"532.0","seg":"g"},{"alt":11.33,"v":1.44,"wl":"532.0","seg":"g"},{"alt":11.42,"v":1.3,"wl":"532.0","seg":"g"},{"alt":11.52,"v":1.23,"wl":"532.0","seg":"g"},{"alt":11.6,"v":1.1,"wl":"532.0","seg":"g"},{"alt":11.71,"v":1.1,"wl":"532.0","seg":"g"},{"alt":11.8,"v":1.2,"wl":"532.0","seg":"g"},{"alt":11.9,"v":1.17,"wl":"532.0","seg":"g"},{"alt":12.0,"v":1.05,"wl":"532.0","seg":"g"},{"alt":12.08,"v":1.03,"wl":"532.0","seg":"g"},{"alt":12.18,"v":0.98,"wl":"532.0","seg":"g"},{"alt":12.27,"v":0.96,"wl":"532.0","seg":"g"},{"alt":12.36,"v":1.05,"wl":"532.0","seg":"g"},{"alt":12.46,"v":1.1,"wl":"532.0","seg":"g"},{"alt":12.55,"v":1.3,"wl":"532.0","seg":"g"},{"alt":12.65,"v":1.44,"wl":"532.0","seg":"g"},{"alt":12.72,"v":1.35,"wl":"532.0","seg":"g"},{"alt":12.79,"v":1.3,"wl":"532.0","seg":"g"},{"alt":12.86,"v":1.5,"wl":"532.0","seg":"g"},{"alt":12.93,"v":1.74,"wl":"532.0","seg":"g"},{"alt":13.0,"v":1.3,"wl":"532.0","seg":"g"},{"alt":13.07,"v":1.17,"wl":"532.0","seg":"g"},{"alt":13.15,"v":1.25,"wl":"532.0","seg":"g"},{"alt":13.22,"v":1.37,"wl":"532.0","seg":"g"},{"alt":13.3,"v":1.15,"wl":"532.0","seg":"g"},{"alt":13.36,"v":1.03,"wl":"532.0","seg":"g"},{"alt":13.43,"v":1.2,"wl":"532.0","seg":"g"},{"alt":13.5,"v":1.17,"wl":"532.0","seg":"g"},{"alt":13.57,"v":1.0,"wl":"532.0","seg":"g"},{"alt":13.64,"v":0.96,"wl":"532.0","seg":"g"},{"alt":13.71,"v":0.8,"wl":"532.0","seg":"g"},{"alt":13.78,"v":0.69,"wl":"532.0","seg":"g"},{"alt":13.87,"v":0.85,"wl":"532.0","seg":"g"},{"alt":13.97,"v":0.89,"wl":"532.0","seg":"g"},{"alt":14.0,"v":0.92,"wl":"532.0","seg":"g"},

      {"alt":0.53,"v":3.54,"wl":"355.0","seg":"lo"},{"alt":0.6,"v":3.3,"wl":"355.0","seg":"lo"},{"alt":0.67,"v":3.16,"wl":"355.0","seg":"lo"},{"alt":0.75,"v":3.2,"wl":"355.0","seg":"lo"},{"alt":0.82,"v":3.35,"wl":"355.0","seg":"lo"},{"alt":0.86,"v":3.4,"wl":"355.0","seg":"lo"},{"alt":0.92,"v":3.6,"wl":"355.0","seg":"lo"},{"alt":1.0,"v":3.74,"wl":"355.0","seg":"lo"},{"alt":1.06,"v":3.5,"wl":"355.0","seg":"lo"},{"alt":1.14,"v":3.33,"wl":"355.0","seg":"lo"},{"alt":1.24,"v":3.2,"wl":"355.0","seg":"lo"},{"alt":1.33,"v":3.06,"wl":"355.0","seg":"lo"},{"alt":1.42,"v":2.95,"wl":"355.0","seg":"lo"},{"alt":1.52,"v":2.79,"wl":"355.0","seg":"lo"},{"alt":1.6,"v":2.7,"wl":"355.0","seg":"lo"},{"alt":1.71,"v":2.55,"wl":"355.0","seg":"lo"},{"alt":1.78,"v":2.5,"wl":"355.0","seg":"lo"},{"alt":1.85,"v":2.49,"wl":"355.0","seg":"lo"},{"alt":1.9,"v":2.8,"wl":"355.0","seg":"lo"},{"alt":1.94,"v":3.06,"wl":"355.0","seg":"lo"},{"alt":1.98,"v":2.85,"wl":"355.0","seg":"lo"},{"alt":2.08,"v":2.86,"wl":"355.0","seg":"lo"},{"alt":2.18,"v":2.82,"wl":"355.0","seg":"lo"},{"alt":2.27,"v":2.79,"wl":"355.0","seg":"lo"},{"alt":2.4,"v":2.75,"wl":"355.0","seg":"lo"},{"alt":2.52,"v":2.72,"wl":"355.0","seg":"lo"},{"alt":2.65,"v":2.66,"wl":"355.0","seg":"lo"},{"alt":2.78,"v":2.75,"wl":"355.0","seg":"lo"},{"alt":2.9,"v":2.7,"wl":"355.0","seg":"lo"},{"alt":3.03,"v":2.65,"wl":"355.0","seg":"lo"},{"alt":3.12,"v":2.66,"wl":"355.0","seg":"lo"},{"alt":3.25,"v":2.72,"wl":"355.0","seg":"lo"},{"alt":3.4,"v":2.75,"wl":"355.0","seg":"lo"},{"alt":3.5,"v":2.7,"wl":"355.0","seg":"lo"},{"alt":3.59,"v":2.79,"wl":"355.0","seg":"lo"},{"alt":3.7,"v":2.72,"wl":"355.0","seg":"lo"},{"alt":3.88,"v":2.66,"wl":"355.0","seg":"lo"},{"alt":4.0,"v":2.75,"wl":"355.0","seg":"lo"},{"alt":4.12,"v":2.7,"wl":"355.0","seg":"lo"},{"alt":4.25,"v":2.78,"wl":"355.0","seg":"lo"},{"alt":4.35,"v":2.68,"wl":"355.0","seg":"lo"},{"alt":4.44,"v":2.7,"wl":"355.0","seg":"lo"},{"alt":4.55,"v":2.8,"wl":"355.0","seg":"lo"},{"alt":4.62,"v":2.76,"wl":"355.0","seg":"lo"},{"alt":4.72,"v":2.83,"wl":"355.0","seg":"lo"},{"alt":4.85,"v":2.72,"wl":"355.0","seg":"lo"},{"alt":4.96,"v":2.68,"wl":"355.0","seg":"lo"},{"alt":5.1,"v":2.66,"wl":"355.0","seg":"lo"},{"alt":5.22,"v":2.75,"wl":"355.0","seg":"lo"},{"alt":5.35,"v":2.72,"wl":"355.0","seg":"lo"},{"alt":5.5,"v":2.78,"wl":"355.0","seg":"lo"},{"alt":5.67,"v":2.72,"wl":"355.0","seg":"lo"},{"alt":5.8,"v":2.78,"wl":"355.0","seg":"lo"},{"alt":5.95,"v":2.83,"wl":"355.0","seg":"lo"},{"alt":6.05,"v":2.9,"wl":"355.0","seg":"lo"},{"alt":6.15,"v":2.95,"wl":"355.0","seg":"lo"},{"alt":6.23,"v":3.0,"wl":"355.0","seg":"lo"},{"alt":6.33,"v":3.06,"wl":"355.0","seg":"lo"},{"alt":6.45,"v":2.95,"wl":"355.0","seg":"lo"},{"alt":6.55,"v":2.93,"wl":"355.0","seg":"lo"},{"alt":6.61,"v":2.9,"wl":"355.0","seg":"lo"},{"alt":6.7,"v":3.0,"wl":"355.0","seg":"lo"},{"alt":6.8,"v":3.12,"wl":"355.0","seg":"lo"},{"alt":6.89,"v":3.23,"wl":"355.0","seg":"lo"},{"alt":6.98,"v":3.12,"wl":"355.0","seg":"lo"},{"alt":7.08,"v":3.1,"wl":"355.0","seg":"lo"},{"alt":7.18,"v":3.0,"wl":"355.0","seg":"lo"},{"alt":7.27,"v":3.03,"wl":"355.0","seg":"lo"},{"alt":7.37,"v":2.95,"wl":"355.0","seg":"lo"},{"alt":7.46,"v":2.9,"wl":"355.0","seg":"lo"},{"alt":7.55,"v":2.86,"wl":"355.0","seg":"lo"},{"alt":7.65,"v":2.85,"wl":"355.0","seg":"lo"},{"alt":7.75,"v":2.8,"wl":"355.0","seg":"lo"},{"alt":7.84,"v":2.83,"wl":"355.0","seg":"lo"},{"alt":7.93,"v":2.83,"wl":"355.0","seg":"lo"},{"alt":8.03,"v":2.77,"wl":"355.0","seg":"lo"},{"alt":8.12,"v":2.72,"wl":"355.0","seg":"lo"},{"alt":8.21,"v":2.75,"wl":"355.0","seg":"lo"},{"alt":8.3,"v":2.65,"wl":"355.0","seg":"lo"},{"alt":8.4,"v":2.59,"wl":"355.0","seg":"lo"},{"alt":8.52,"v":2.62,"wl":"355.0","seg":"lo"},{"alt":8.64,"v":2.66,"wl":"355.0","seg":"lo"},{"alt":8.76,"v":2.79,"wl":"355.0","seg":"lo"},{"alt":8.88,"v":2.86,"wl":"355.0","seg":"lo"},{"alt":9.0,"v":2.95,"wl":"355.0","seg":"lo"},{"alt":9.11,"v":3.03,"wl":"355.0","seg":"lo"},{"alt":9.2,"v":2.95,"wl":"355.0","seg":"lo"},{"alt":9.3,"v":2.9,"wl":"355.0","seg":"lo"},{"alt":9.44,"v":2.9,"wl":"355.0","seg":"lo"},{"alt":9.58,"v":2.86,"wl":"355.0","seg":"lo"},{"alt":9.73,"v":2.83,"wl":"355.0","seg":"lo"},{"alt":9.87,"v":2.8,"wl":"355.0","seg":"lo"},{"alt":10.01,"v":2.79,"wl":"355.0","seg":"lo"},{"alt":10.15,"v":2.72,"wl":"355.0","seg":"lo"},{"alt":10.29,"v":2.72,"wl":"355.0","seg":"lo"},{"alt":10.43,"v":2.75,"wl":"355.0","seg":"lo"},{"alt":10.57,"v":2.75,"wl":"355.0","seg":"lo"},{"alt":10.72,"v":2.78,"wl":"355.0","seg":"lo"},{"alt":10.86,"v":2.79,"wl":"355.0","seg":"lo"},{"alt":11.0,"v":2.86,"wl":"355.0","seg":"lo"},{"alt":11.14,"v":2.86,"wl":"355.0","seg":"lo"},{"alt":11.28,"v":2.92,"wl":"355.0","seg":"lo"},{"alt":11.42,"v":2.96,"wl":"355.0","seg":"lo"},{"alt":11.55,"v":2.93,"wl":"355.0","seg":"lo"},{"alt":11.66,"v":2.93,"wl":"355.0","seg":"lo"},{"alt":11.78,"v":2.86,"wl":"355.0","seg":"lo"},{"alt":11.9,"v":2.83,"wl":"355.0","seg":"lo"},{"alt":12.0,"v":2.75,"wl":"355.0","seg":"lo"},{"alt":12.08,"v":2.72,"wl":"355.0","seg":"lo"},{"alt":12.15,"v":2.78,"wl":"355.0","seg":"lo"},{"alt":12.2,"v":2.82,"wl":"355.0","seg":"lo"},
      {"alt":12.2,"v":2.82,"wl":"355.0","seg":"err"},{"alt":12.32,"v":2.9,"wl":"355.0","seg":"err"},{"alt":12.45,"v":2.85,"wl":"355.0","seg":"err"},{"alt":12.55,"v":2.79,"wl":"355.0","seg":"err"},{"alt":12.7,"v":2.86,"wl":"355.0","seg":"err"},{"alt":12.84,"v":2.9,"wl":"355.0","seg":"err"},{"alt":12.98,"v":2.83,"wl":"355.0","seg":"err"},{"alt":13.12,"v":2.79,"wl":"355.0","seg":"err"},{"alt":13.26,"v":2.86,"wl":"355.0","seg":"err"},{"alt":13.41,"v":2.9,"wl":"355.0","seg":"err"},{"alt":13.55,"v":2.83,"wl":"355.0","seg":"err"},{"alt":13.69,"v":2.79,"wl":"355.0","seg":"err"},{"alt":13.72,"v":2.8,"wl":"355.0","seg":"err"},
      {"alt":13.72,"v":2.8,"wl":"355.0","seg":"hi"},{"alt":13.8,"v":2.82,"wl":"355.0","seg":"hi"},{"alt":13.88,"v":2.86,"wl":"355.0","seg":"hi"},{"alt":13.94,"v":2.76,"wl":"355.0","seg":"hi"},{"alt":14.0,"v":2.79,"wl":"355.0","seg":"hi"}
    ],
    "pdr": [
      {"alt":0.53,"v":7,"wl":"532.0","seg":"g1"},{"alt":0.7,"v":6,"wl":"532.0","seg":"g1"},{"alt":0.9,"v":7,"wl":"532.0","seg":"g1"},{"alt":1.1,"v":6,"wl":"532.0","seg":"g1"},{"alt":1.3,"v":6,"wl":"532.0","seg":"g1"},{"alt":1.5,"v":7,"wl":"532.0","seg":"g1"},{"alt":1.7,"v":6,"wl":"532.0","seg":"g1"},{"alt":1.9,"v":7,"wl":"532.0","seg":"g1"},{"alt":2.0,"v":9,"wl":"532.0","seg":"g1"},{"alt":2.1,"v":8,"wl":"532.0","seg":"g1"},{"alt":2.2,"v":10,"wl":"532.0","seg":"g1"},{"alt":2.3,"v":7,"wl":"532.0","seg":"g1"},{"alt":2.4,"v":9,"wl":"532.0","seg":"g1"},{"alt":2.5,"v":8,"wl":"532.0","seg":"g1"},{"alt":2.6,"v":11,"wl":"532.0","seg":"g1"},{"alt":2.7,"v":7,"wl":"532.0","seg":"g1"},{"alt":2.8,"v":9,"wl":"532.0","seg":"g1"},{"alt":2.9,"v":6,"wl":"532.0","seg":"g1"},{"alt":3.0,"v":10,"wl":"532.0","seg":"g1"},{"alt":3.1,"v":8,"wl":"532.0","seg":"g1"},{"alt":3.2,"v":11,"wl":"532.0","seg":"g1"},{"alt":3.3,"v":7,"wl":"532.0","seg":"g1"},
      {"alt":3.4,"v":9,"wl":"532.0","seg":"g2"},{"alt":3.5,"v":14,"wl":"532.0","seg":"g2"},{"alt":3.55,"v":10,"wl":"532.0","seg":"g2"},{"alt":3.65,"v":8,"wl":"532.0","seg":"g2"},
      {"alt":3.8,"v":6,"wl":"532.0","seg":"g3"},{"alt":3.9,"v":9,"wl":"532.0","seg":"g3"},{"alt":4.0,"v":5,"wl":"532.0","seg":"g3"},{"alt":4.1,"v":8,"wl":"532.0","seg":"g3"},{"alt":4.2,"v":5,"wl":"532.0","seg":"g3"},{"alt":4.3,"v":9,"wl":"532.0","seg":"g3"},{"alt":4.4,"v":6,"wl":"532.0","seg":"g3"},{"alt":4.5,"v":8,"wl":"532.0","seg":"g3"},{"alt":4.6,"v":5,"wl":"532.0","seg":"g3"},
      {"alt":4.75,"v":7,"wl":"532.0","seg":"g4"},{"alt":4.85,"v":10,"wl":"532.0","seg":"g4"},{"alt":4.95,"v":6,"wl":"532.0","seg":"g4"},{"alt":5.05,"v":9,"wl":"532.0","seg":"g4"},{"alt":5.15,"v":7,"wl":"532.0","seg":"g4"},{"alt":5.25,"v":11,"wl":"532.0","seg":"g4"},{"alt":5.35,"v":6,"wl":"532.0","seg":"g4"},{"alt":5.45,"v":8,"wl":"532.0","seg":"g4"},
      {"alt":5.6,"v":4,"wl":"532.0","seg":"g5"},{"alt":5.7,"v":7,"wl":"532.0","seg":"g5"},{"alt":5.8,"v":4,"wl":"532.0","seg":"g5"},{"alt":5.9,"v":6,"wl":"532.0","seg":"g5"},
      {"alt":6.25,"v":8,"wl":"532.0","seg":"g6"},{"alt":6.35,"v":12,"wl":"532.0","seg":"g6"},{"alt":6.45,"v":17,"wl":"532.0","seg":"g6"},{"alt":6.52,"v":12,"wl":"532.0","seg":"g6"},{"alt":6.6,"v":9,"wl":"532.0","seg":"g6"},
      {"alt":6.85,"v":5,"wl":"532.0","seg":"g7"},{"alt":6.95,"v":7,"wl":"532.0","seg":"g7"},{"alt":7.05,"v":4,"wl":"532.0","seg":"g7"},
      {"alt":7.35,"v":5,"wl":"532.0","seg":"g8"},{"alt":7.45,"v":8,"wl":"532.0","seg":"g8"},{"alt":7.55,"v":6,"wl":"532.0","seg":"g8"},{"alt":7.65,"v":9,"wl":"532.0","seg":"g8"},{"alt":7.75,"v":7,"wl":"532.0","seg":"g8"},{"alt":7.9,"v":5,"wl":"532.0","seg":"g8"},
      {"alt":8.45,"v":8,"wl":"532.0","seg":"g9"},{"alt":8.55,"v":6,"wl":"532.0","seg":"g9"},
      {"alt":8.95,"v":5,"wl":"532.0","seg":"g10"},{"alt":9.05,"v":7,"wl":"532.0","seg":"g10"},{"alt":9.15,"v":5,"wl":"532.0","seg":"g10"},{"alt":9.25,"v":6,"wl":"532.0","seg":"g10"},
      {"alt":9.45,"v":6,"wl":"532.0","seg":"g11"},{"alt":9.55,"v":8,"wl":"532.0","seg":"g11"},{"alt":9.65,"v":5,"wl":"532.0","seg":"g11"},
      {"alt":9.9,"v":4,"wl":"532.0","seg":"g12"},{"alt":10.0,"v":6,"wl":"532.0","seg":"g12"},{"alt":10.15,"v":4,"wl":"532.0","seg":"g12"},
      {"alt":11.1,"v":6,"wl":"532.0","seg":"g13"},{"alt":11.25,"v":8,"wl":"532.0","seg":"g13"},{"alt":11.4,"v":5,"wl":"532.0","seg":"g13"},{"alt":11.55,"v":7,"wl":"532.0","seg":"g13"},
      {"alt":11.95,"v":3,"wl":"532.0","seg":"g14"},{"alt":12.05,"v":4,"wl":"532.0","seg":"g14"},
      {"alt":12.15,"v":5,"wl":"532.0","seg":"g15"},{"alt":12.3,"v":7,"wl":"532.0","seg":"g15"},{"alt":12.4,"v":4,"wl":"532.0","seg":"g15"},
      {"alt":13.25,"v":7,"wl":"532.0","seg":"g16"},{"alt":13.4,"v":5,"wl":"532.0","seg":"g16"},

      {"alt":0.53,"v":34,"wl":"355.0","seg":"b1"},{"alt":0.6,"v":30,"wl":"355.0","seg":"b1"},{"alt":0.67,"v":25,"wl":"355.0","seg":"b1"},{"alt":0.8,"v":27,"wl":"355.0","seg":"b1"},{"alt":0.95,"v":27,"wl":"355.0","seg":"b1"},{"alt":1.05,"v":22,"wl":"355.0","seg":"b1"},{"alt":1.14,"v":19,"wl":"355.0","seg":"b1"},{"alt":1.25,"v":17,"wl":"355.0","seg":"b1"},{"alt":1.33,"v":16,"wl":"355.0","seg":"b1"},{"alt":1.45,"v":12,"wl":"355.0","seg":"b1"},{"alt":1.52,"v":10,"wl":"355.0","seg":"b1"},{"alt":1.65,"v":8,"wl":"355.0","seg":"b1"},{"alt":1.8,"v":7,"wl":"355.0","seg":"b1"},{"alt":1.88,"v":8,"wl":"355.0","seg":"b1"},{"alt":1.9,"v":10,"wl":"355.0","seg":"b1"},{"alt":1.91,"v":92,"wl":"355.0","seg":"b1"},{"alt":1.95,"v":200,"wl":"355.0","seg":"b1"},{"alt":1.99,"v":220,"wl":"355.0","seg":"b1"},{"alt":2.02,"v":180,"wl":"355.0","seg":"b1"},{"alt":2.05,"v":110,"wl":"355.0","seg":"b1"},{"alt":2.1,"v":202,"wl":"355.0","seg":"b1"},{"alt":2.13,"v":150,"wl":"355.0","seg":"b1"},{"alt":2.16,"v":153,"wl":"355.0","seg":"b1"},{"alt":2.18,"v":232,"wl":"355.0","seg":"b1"},{"alt":2.2,"v":120,"wl":"355.0","seg":"b1"},
      {"alt":2.27,"v":110,"wl":"355.0","seg":"b2"},{"alt":2.32,"v":90,"wl":"355.0","seg":"b2"},{"alt":2.37,"v":144,"wl":"355.0","seg":"b2"},{"alt":2.41,"v":62,"wl":"355.0","seg":"b2"},{"alt":2.46,"v":80,"wl":"355.0","seg":"b2"},{"alt":2.5,"v":98,"wl":"355.0","seg":"b2"},{"alt":2.55,"v":74,"wl":"355.0","seg":"b2"},{"alt":2.62,"v":90,"wl":"355.0","seg":"b2"},{"alt":2.66,"v":263,"wl":"355.0","seg":"b2"},{"alt":2.68,"v":0,"wl":"355.0","seg":"b2"},{"alt":2.7,"v":238,"wl":"355.0","seg":"b2"},{"alt":2.74,"v":240,"wl":"355.0","seg":"b2"},{"alt":2.78,"v":100,"wl":"355.0","seg":"b2"},{"alt":2.84,"v":62,"wl":"355.0","seg":"b2"},{"alt":2.9,"v":110,"wl":"355.0","seg":"b2"},{"alt":2.93,"v":147,"wl":"355.0","seg":"b2"},{"alt":2.98,"v":60,"wl":"355.0","seg":"b2"},{"alt":3.03,"v":145,"wl":"355.0","seg":"b2"},{"alt":3.08,"v":62,"wl":"355.0","seg":"b2"},{"alt":3.12,"v":147,"wl":"355.0","seg":"b2"},{"alt":3.17,"v":60,"wl":"355.0","seg":"b2"},{"alt":3.22,"v":56,"wl":"355.0","seg":"b2"},{"alt":3.26,"v":90,"wl":"355.0","seg":"b2"},
      {"alt":3.68,"v":89,"wl":"355.0","seg":"b3"},{"alt":3.72,"v":168,"wl":"355.0","seg":"b3"},
      {"alt":3.82,"v":70,"wl":"355.0","seg":"b4"},{"alt":3.87,"v":55,"wl":"355.0","seg":"b4"},{"alt":3.92,"v":100,"wl":"355.0","seg":"b4"},{"alt":3.97,"v":80,"wl":"355.0","seg":"b4"},{"alt":4.02,"v":65,"wl":"355.0","seg":"b4"},{"alt":4.06,"v":50,"wl":"355.0","seg":"b4"},{"alt":4.12,"v":90,"wl":"355.0","seg":"b4"},{"alt":4.2,"v":135,"wl":"355.0","seg":"b4"},{"alt":4.27,"v":80,"wl":"355.0","seg":"b4"},{"alt":4.35,"v":50,"wl":"355.0","seg":"b4"},{"alt":4.42,"v":60,"wl":"355.0","seg":"b4"},{"alt":4.49,"v":43,"wl":"355.0","seg":"b4"},{"alt":4.56,"v":100,"wl":"355.0","seg":"b4"},{"alt":4.63,"v":60,"wl":"355.0","seg":"b4"},{"alt":4.68,"v":40,"wl":"355.0","seg":"b4"},{"alt":4.72,"v":19,"wl":"355.0","seg":"b4"},{"alt":4.8,"v":50,"wl":"355.0","seg":"b4"},{"alt":4.87,"v":74,"wl":"355.0","seg":"b4"},{"alt":4.95,"v":40,"wl":"355.0","seg":"b4"},{"alt":5.01,"v":60,"wl":"355.0","seg":"b4"},{"alt":5.06,"v":80,"wl":"355.0","seg":"b4"},{"alt":5.12,"v":56,"wl":"355.0","seg":"b4"},{"alt":5.2,"v":310,"wl":"355.0","seg":"b4"},{"alt":5.22,"v":120,"wl":"355.0","seg":"b4"},{"alt":5.25,"v":56,"wl":"355.0","seg":"b4"},
      {"alt":5.32,"v":70,"wl":"355.0","seg":"b5"},{"alt":5.38,"v":100,"wl":"355.0","seg":"b5"},{"alt":5.45,"v":60,"wl":"355.0","seg":"b5"},{"alt":5.52,"v":55,"wl":"355.0","seg":"b5"},{"alt":5.6,"v":90,"wl":"355.0","seg":"b5"},{"alt":5.67,"v":122,"wl":"355.0","seg":"b5"},{"alt":5.72,"v":70,"wl":"355.0","seg":"b5"},{"alt":5.81,"v":60,"wl":"355.0","seg":"b5"},{"alt":5.88,"v":90,"wl":"355.0","seg":"b5"},{"alt":5.95,"v":141,"wl":"355.0","seg":"b5"},{"alt":6.02,"v":60,"wl":"355.0","seg":"b5"},{"alt":6.09,"v":37,"wl":"355.0","seg":"b5"},{"alt":6.15,"v":70,"wl":"355.0","seg":"b5"},{"alt":6.23,"v":86,"wl":"355.0","seg":"b5"},
      {"alt":6.95,"v":122,"wl":"355.0","seg":"b6"},{"alt":6.99,"v":104,"wl":"355.0","seg":"b6"},{"alt":7.08,"v":104,"wl":"355.0","seg":"b6"},{"alt":7.15,"v":60,"wl":"355.0","seg":"b6"},{"alt":7.27,"v":55,"wl":"355.0","seg":"b6"},{"alt":7.35,"v":80,"wl":"355.0","seg":"b6"},{"alt":7.41,"v":90,"wl":"355.0","seg":"b6"},
      {"alt":7.5,"v":60,"wl":"355.0","seg":"b7"},{"alt":7.6,"v":75,"wl":"355.0","seg":"b7"},{"alt":7.7,"v":90,"wl":"355.0","seg":"b7"},{"alt":7.75,"v":55,"wl":"355.0","seg":"b7"},
      {"alt":7.95,"v":70,"wl":"355.0","seg":"b8"},{"alt":8.03,"v":86,"wl":"355.0","seg":"b8"},
      {"alt":8.25,"v":60,"wl":"355.0","seg":"b9"},{"alt":8.31,"v":100,"wl":"355.0","seg":"b9"},
      {"alt":8.5,"v":50,"wl":"355.0","seg":"b10"},{"alt":8.6,"v":65,"wl":"355.0","seg":"b10"},{"alt":8.7,"v":75,"wl":"355.0","seg":"b10"},{"alt":8.8,"v":60,"wl":"355.0","seg":"b10"},{"alt":8.9,"v":40,"wl":"355.0","seg":"b10"},{"alt":9.0,"v":55,"wl":"355.0","seg":"b10"},{"alt":9.07,"v":85,"wl":"355.0","seg":"b10"},
      {"alt":9.2,"v":45,"wl":"355.0","seg":"b11"},{"alt":9.25,"v":70,"wl":"355.0","seg":"b11"},{"alt":9.3,"v":104,"wl":"355.0","seg":"b11"},{"alt":9.35,"v":43,"wl":"355.0","seg":"b11"},{"alt":9.4,"v":80,"wl":"355.0","seg":"b11"},
      {"alt":9.88,"v":80,"wl":"355.0","seg":"b12"},{"alt":9.92,"v":98,"wl":"355.0","seg":"b12"},
      {"alt":10.2,"v":45,"wl":"355.0","seg":"b13"},{"alt":10.3,"v":55,"wl":"355.0","seg":"b13"},{"alt":10.38,"v":40,"wl":"355.0","seg":"b13"},{"alt":10.43,"v":48,"wl":"355.0","seg":"b13"},
      {"alt":12.5,"v":44,"wl":"355.0","seg":"b14"},{"alt":12.55,"v":46,"wl":"355.0","seg":"b14"},
      {"alt":12.98,"v":31,"wl":"355.0","seg":"b15"},{"alt":13.07,"v":28,"wl":"355.0","seg":"b15"},
      {"alt":13.17,"v":28,"wl":"355.0","seg":"b16"},{"alt":13.26,"v":31,"wl":"355.0","seg":"b16"},
      {"alt":13.64,"v":25,"wl":"355.0","seg":"b17"},{"alt":13.78,"v":22,"wl":"355.0","seg":"b17"}
    ]
  },
  "hconcat": [
    {
      "title": "Backscatter Coeff.",
      "width": 278,
      "height": 476,
      "layer": [
        {
          "data": {"name": "bsc"},
          "mark": {"type": "line", "strokeWidth": 3, "clip": true, "strokeJoin": "round"},
          "encoding": {
            "x": {"field": "v", "type": "quantitative", "scale": {"domain": [-0.5, 3.57], "nice": false, "zero": false}, "axis": {"values": [0, 1, 2, 3], "format": "d", "title": "Mm⁻¹sr⁻¹", "titleFontStyle": "italic"}},
            "y": {"field": "alt", "type": "quantitative", "scale": {"domain": [0.52, 14], "nice": false, "zero": false}, "axis": {"values": [2, 4, 6, 8, 10, 12, 14], "title": "altitude [km]"}},
            "color": {"field": "wl", "type": "nominal", "scale": {"domain": ["532.0", "355.0", "1064.0"], "range": ["#008000", "#0000ff", "#ff0000"]}, "legend": {"title": null, "symbolType": "M-3.6,0H3.6"}},
            "order": {"field": "alt", "type": "quantitative"}
          }
        },
        {
          "data": {"values": [{"v": 0}]},
          "mark": {"type": "rule", "strokeDash": [6, 3.5], "color": "black", "strokeWidth": 2},
          "encoding": {"x": {"field": "v", "type": "quantitative"}}
        }
      ]
    },
    {
      "title": "Extinction Coeff.",
      "width": 278,
      "height": 476,
      "layer": [
        {
          "data": {"name": "ext"},
          "mark": {"type": "line", "strokeWidth": 3, "clip": true, "strokeJoin": "round"},
          "encoding": {
            "x": {"field": "v", "type": "quantitative", "scale": {"domain": [-0.1, 0.167], "nice": false, "zero": false}, "axis": {"values": [-0.1, 0, 0.1], "format": ".1f", "title": "km⁻¹", "titleFontStyle": "italic"}},
            "y": {"field": "alt", "type": "quantitative", "scale": {"domain": [0.52, 14], "nice": false, "zero": false}, "axis": {"values": [2, 4, 6, 8, 10, 12, 14], "labels": false, "title": null}},
            "color": {"field": "wl", "type": "nominal", "scale": {"domain": ["532.0", "355.0"], "range": ["#008000", "#0000ff"]}, "legend": {"title": null, "symbolType": "M-3.6,0H3.6"}},
            "order": {"field": "alt", "type": "quantitative"}
          }
        },
        {
          "data": {"values": [{"v": 0}]},
          "mark": {"type": "rule", "strokeDash": [6, 3.5], "color": "black", "strokeWidth": 2},
          "encoding": {"x": {"field": "v", "type": "quantitative"}}
        }
      ]
    },
    {
      "title": "Volume Depolarization",
      "width": 278,
      "height": 476,
      "layer": [
        {
          "data": {"name": "vdr"},
          "transform": [{"filter": "datum.seg !== 'err'"}],
          "mark": {"type": "line", "strokeWidth": 3, "clip": true, "strokeJoin": "round"},
          "encoding": {
            "x": {"field": "v", "type": "quantitative", "scale": {"domain": [-0.98, 4.66], "nice": false, "zero": false}, "axis": {"values": [0, 2, 4], "format": "d", "title": null}},
            "y": {"field": "alt", "type": "quantitative", "scale": {"domain": [0.52, 14], "nice": false, "zero": false}, "axis": {"values": [2, 4, 6, 8, 10, 12, 14], "labels": false, "title": null}},
            "color": {"field": "wl", "type": "nominal", "scale": {"domain": ["532.0", "355.0"], "range": ["#008000", "#0000ff"]}, "legend": {"title": null, "symbolType": "M-3.6,0H3.6M0,-0.7V0.7"}},
            "detail": {"field": "seg"},
            "order": {"field": "alt", "type": "quantitative"}
          }
        },
        {
          "data": {"name": "vdr"},
          "transform": [{"filter": "datum.seg === 'err'"}],
          "mark": {"type": "line", "strokeWidth": 4.5, "color": "#0000ff", "opacity": 0.25, "clip": true, "strokeJoin": "round"},
          "encoding": {
            "x": {"field": "v", "type": "quantitative"},
            "y": {"field": "alt", "type": "quantitative"},
            "order": {"field": "alt", "type": "quantitative"}
          }
        },
        {
          "data": {"values": [{"v": 0}]},
          "mark": {"type": "rule", "strokeDash": [6, 3.5], "color": "black", "strokeWidth": 2},
          "encoding": {"x": {"field": "v", "type": "quantitative"}}
        }
      ]
    },
    {
      "title": "Particle Depolarization",
      "width": 278,
      "height": 476,
      "layer": [
        {
          "data": {"name": "pdr"},
          "mark": {"type": "line", "strokeWidth": 3, "clip": true, "strokeJoin": "round"},
          "encoding": {
            "x": {"field": "v", "type": "quantitative", "scale": {"domain": [-1, 505], "nice": false, "zero": false}, "axis": {"values": [0, 200, 400], "format": "d", "title": null}},
            "y": {"field": "alt", "type": "quantitative", "scale": {"domain": [0.52, 14], "nice": false, "zero": false}, "axis": {"values": [2, 4, 6, 8, 10, 12, 14], "labels": false, "title": null}},
            "color": {"field": "wl", "type": "nominal", "scale": {"domain": ["532.0", "355.0"], "range": ["#008000", "#0000ff"]}, "legend": {"title": null, "symbolType": "M-3.6,0H3.6"}},
            "detail": {"field": "seg"},
            "order": {"field": "alt", "type": "quantitative"}
          }
        },
        {
          "data": {"values": [{"v": 0}]},
          "mark": {"type": "rule", "strokeDash": [6, 3.5], "color": "black", "strokeWidth": 2},
          "encoding": {"x": {"field": "v", "type": "quantitative"}}
        }
      ]
    }
  ],
  "config": {
    "font": "DejaVu Sans",
    "view": {"stroke": "#444", "strokeWidth": 1.2},
    "axis": {
      "grid": false,
      "domain": false,
      "ticks": true,
      "tickColor": "#444",
      "tickSize": 5,
      "tickWidth": 1.2,
      "labelFont": "DejaVu Sans",
      "labelFontSize": 15,
      "labelColor": "#222",
      "labelPadding": 5,
      "titleFont": "DejaVu Sans",
      "titleFontSize": 15,
      "titleFontWeight": "normal",
      "titleColor": "#222"
    },
    "axisY": {"labelPadding": 9, "titlePadding": 10},
    "axisX": {"titlePadding": 6, "titleFontSize": 16, "labelFlush": false},
    "title": {"font": "DejaVu Sans", "fontSize": 20.4, "fontWeight": "normal", "color": "#222", "offset": 5},
    "legend": {
      "orient": "top-right",
      "offset": 9,
      "padding": 7,
      "strokeColor": "#cccccc",
      "fillColor": "rgba(255,255,255,0.8)",
      "cornerRadius": 3,
      "labelFont": "DejaVu Sans",
      "labelFontSize": 16,
      "labelColor": "#222",
      "labelOffset": 20.5,
      "symbolOffset": 6.2,
      "symbolSize": 100,
      "symbolStrokeWidth": 3,
      "rowPadding": 9.5
    }
  }
}
